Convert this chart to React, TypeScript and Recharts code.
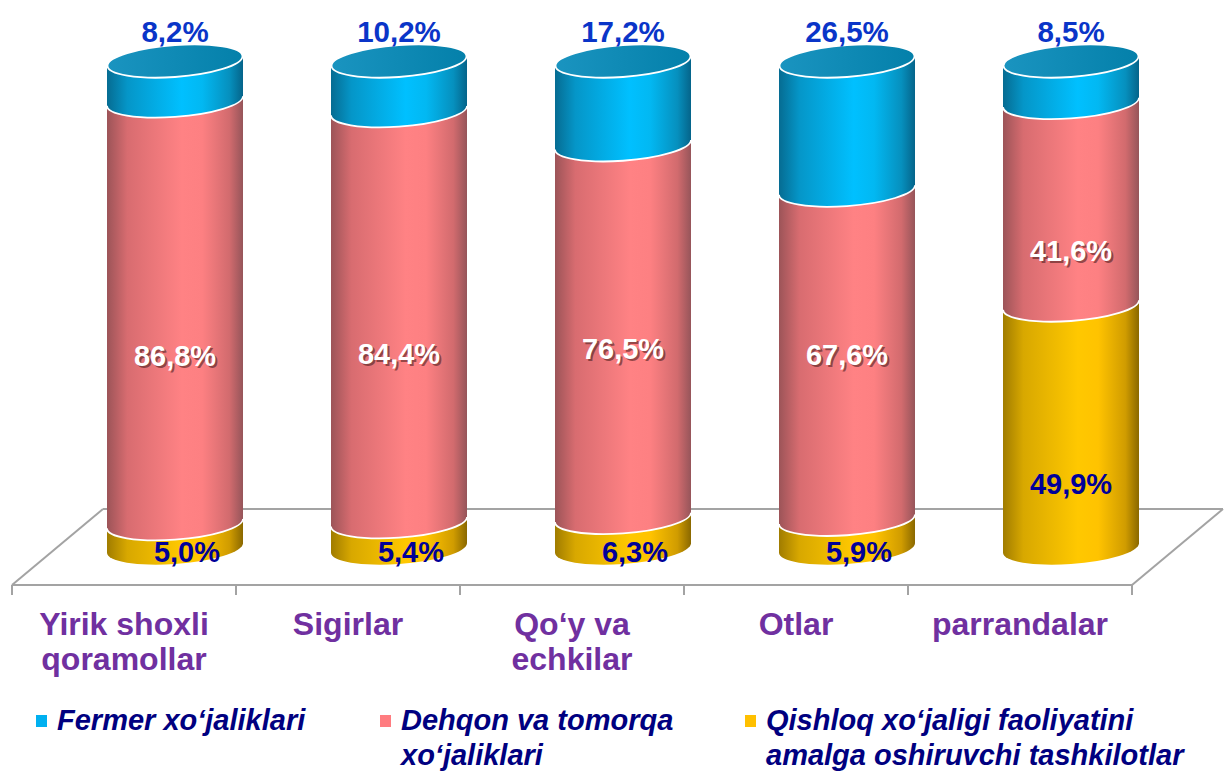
import React from "react";
import { BarChart, Bar, XAxis, YAxis, LabelList } from "recharts";

// chart values (percent)
const categories = [
  "Yirik shoxli\nqoramollar",
  "Sigirlar",
  "Qo‘y va\nechkilar",
  "Otlar",
  "parrandalar",
];
const tashkilotlar = [5.0, 5.4, 6.3, 5.9, 49.9];
const dehqon = [86.8, 84.4, 76.5, 67.6, 41.6];
const fermer = [8.2, 10.2, 17.2, 26.5, 8.5];
const seriesNames = [
  "Fermer xo‘jaliklari",
  "Dehqon va tomorqa\nxo‘jaliklari",
  "Qishloq xo‘jaligi faoliyatini\namalga oshiruvchi tashkilotlar",
];

const data = categories.map((name, i) => ({
  name,
  tashkilot: tashkilotlar[i],
  dehqon: dehqon[i],
  fermer: fermer[i],
}));

const W = 1224;
const H = 773;
const MARGIN = { top: 61, right: 41, left: 63, bottom: 0 };
const BAND = (W - MARGIN.left - MARGIN.right) / categories.length;
const RY = 16;
const TILT = -4;
const FONT = "'Liberation Sans', Arial, Helvetica, sans-serif";
const FLOOR = "#a3a3a3";

const fmt = (v: number) => `${v.toFixed(1).replace(".", ",")}%`;

// where the label sits inside a segment, measured up from its bottom
function labelCenter(y: number, height: number) {
  const bottom = y + height;
  if (height < 40) return bottom + 4;
  if (height < 300) return bottom - 0.265 * height;
  return bottom - Math.min(168, height / 2);
}

function cylinder(gradId: string, edge: boolean, cap?: string) {
  return (props: any) => {
    const { x, y, width, height } = props;
    if (!height || height <= 0) return <g />;
    const rx = width / 2;
    const cx = x + rx;
    const bot = y + height;
    const body = `M${x},${y} L${x},${bot} A${rx},${RY} 0 0 0 ${x + width},${bot} L${x + width},${y} Z`;
    return (
      <g transform={`translate(${cx},0) skewY(${TILT}) translate(${-cx},0)`}>
        <path d={body} fill={`url(#${gradId})`} />
        {edge && (
          <path
            d={`M${x},${bot} A${rx},${RY} 0 0 0 ${x + width},${bot}`}
            fill="none"
            stroke="#ffffff"
            strokeWidth={1.8}
          />
        )}
        {cap && (
          <ellipse
            cx={cx}
            cy={y}
            rx={rx - 0.5}
            ry={RY}
            fill={`url(#${cap})`}
            stroke="#ffffff"
            strokeWidth={1.8}
          />
        )}
      </g>
    );
  };
}

function FloorPiece(p: any) {
  const { x, y, width, height, index } = p;
  const cx = x + width / 2;
  const bottom = y + height;
  const fy = bottom + 37;
  const by = bottom - 39;
  const half = BAND / 2;
  const fl = cx - half - 51;
  const fr = cx + half - 51;
  const last = index === categories.length - 1;
  return (
    <g stroke={FLOOR} strokeWidth={2} fill="none">
      <line x1={fl} y1={fy} x2={fr} y2={fy} />
      <line x1={fl} y1={fy} x2={fl} y2={fy + 10} />
      <line x1={fl + 91} y1={by} x2={fr + 91} y2={by} />
      {index === 0 && <line x1={fl} y1={fy} x2={fl + 91} y2={by} />}
      {last && <line x1={fr} y1={fy} x2={fr} y2={fy + 10} />}
      {last && <line x1={fr} y1={fy} x2={fr + 91} y2={by} />}
    </g>
  );
}

function CategoryTick(p: any) {
  const { x, y, payload } = p;
  const lines = String(payload.value).split("\n");
  return (
    <g>
      {lines.map((l, i) => (
        <text
          key={i}
          x={x - 51}
          y={y + 87 + i * 35}
          textAnchor="middle"
          fill="#7030a0"
          fontSize={32}
          fontWeight="bold"
          fontFamily={FONT}
        >
          {l}
        </text>
      ))}
    </g>
  );
}

function TopLabel(p: any) {
  const { x, y, width, value } = p;
  return (
    <text
      x={x + width / 2}
      y={y - 19}
      textAnchor="middle"
      fill="#0a35c8"
      fontSize={29.5}
      fontWeight="bold"
      fontFamily={FONT}
    >
      {fmt(value)}
    </text>
  );
}

function MidLabel(p: any) {
  const { x, y, width, height, value } = p;
  const cx = x + width / 2;
  const base = labelCenter(y, height) + 10;
  return (
    <g fontSize={29} fontWeight="bold" fontFamily={FONT} textAnchor="middle">
      <text x={cx + 2} y={base + 2} fill="rgba(60,20,20,0.55)">
        {fmt(value)}
      </text>
      <text x={cx} y={base} fill="#ffffff">
        {fmt(value)}
      </text>
    </g>
  );
}

function BottomLabel(p: any) {
  const { x, y, width, height, value } = p;
  const cx = x + width / 2 + (height < 40 ? 12 : 0);
  const base = labelCenter(y, height) + 10;
  return (
    <text
      x={cx}
      y={base}
      textAnchor="middle"
      fill="#000099"
      fontSize={29}
      fontWeight="bold"
      fontFamily={FONT}
    >
      {fmt(value)}
    </text>
  );
}

const legendColors = ["#00b0f0", "#ff7c80", "#ffc000"];
const legendX = [36, 380, 745];

export default function App() {
  return (
    <div style={{ position: "relative", width: W, height: H, overflow: "hidden" }}>
      <style>{"body{margin:0}"}</style>
      <BarChart width={W} height={H} data={data} margin={MARGIN} barSize={136}>
        <defs>
          <linearGradient id="gYellow" x1="0" y1="0" x2="1" y2="0">
            <stop offset="0" stopColor="#a07c00" />
            <stop offset="0.15" stopColor="#d8a800" />
            <stop offset="0.55" stopColor="#ffc800" />
            <stop offset="0.7" stopColor="#ffc300" />
            <stop offset="0.9" stopColor="#d09c00" />
            <stop offset="1" stopColor="#8a6800" />
          </linearGradient>
          <linearGradient id="gPink" x1="0" y1="0" x2="1" y2="0">
            <stop offset="0" stopColor="#9c5458" />
            <stop offset="0.15" stopColor="#d86c70" />
            <stop offset="0.55" stopColor="#ff8284" />
            <stop offset="0.7" stopColor="#fd8082" />
            <stop offset="0.9" stopColor="#d26b6e" />
            <stop offset="1" stopColor="#96555a" />
          </linearGradient>
          <linearGradient id="gBlue" x1="0" y1="0" x2="1" y2="0">
            <stop offset="0" stopColor="#066c92" />
            <stop offset="0.15" stopColor="#0596c8" />
            <stop offset="0.55" stopColor="#00c0ff" />
            <stop offset="0.7" stopColor="#02b8f2" />
            <stop offset="0.9" stopColor="#0690be" />
            <stop offset="1" stopColor="#05648a" />
          </linearGradient>
          <linearGradient id="gCap" x1="0" y1="0" x2="1" y2="0">
            <stop offset="0" stopColor="#1a94c0" />
            <stop offset="1" stopColor="#0480aa" />
          </linearGradient>
        </defs>
        <XAxis
          dataKey="name"
          height={225}
          axisLine={false}
          tickLine={false}
          tickSize={0}
          tickMargin={0}
          interval={0}
          tick={<CategoryTick />}
        />
        <YAxis hide domain={[0, 100]} />
        <Bar
          dataKey="tashkilot"
          stackId="a"
          isAnimationActive={false}
          shape={cylinder("gYellow", false)}
          background={(p: any) => <FloorPiece {...p} />}
        >
          <LabelList dataKey="tashkilot" content={<BottomLabel />} />
        </Bar>
        <Bar
          dataKey="dehqon"
          stackId="a"
          isAnimationActive={false}
          shape={cylinder("gPink", true)}
        >
          <LabelList dataKey="dehqon" content={<MidLabel />} />
        </Bar>
        <Bar
          dataKey="fermer"
          stackId="a"
          isAnimationActive={false}
          shape={cylinder("gBlue", true, "gCap")}
        >
          <LabelList dataKey="fermer" content={<TopLabel />} />
        </Bar>
      </BarChart>
      {seriesNames.map((name, i) => (
        <div
          key={name}
          style={{
            position: "absolute",
            left: legendX[i],
            top: 703,
            fontFamily: FONT,
            fontSize: 29,
            lineHeight: "35px",
            fontWeight: "bold",
            fontStyle: "italic",
            color: "#000080",
            whiteSpace: "pre",
          }}
        >
          <span
            style={{
              position: "absolute",
              left: 0,
              top: 12,
              width: 11,
              height: 12,
              background: legendColors[i],
            }}
          />
          <div style={{ marginLeft: 21 }}>{name}</div>
        </div>
      ))}
    </div>
  );
}
